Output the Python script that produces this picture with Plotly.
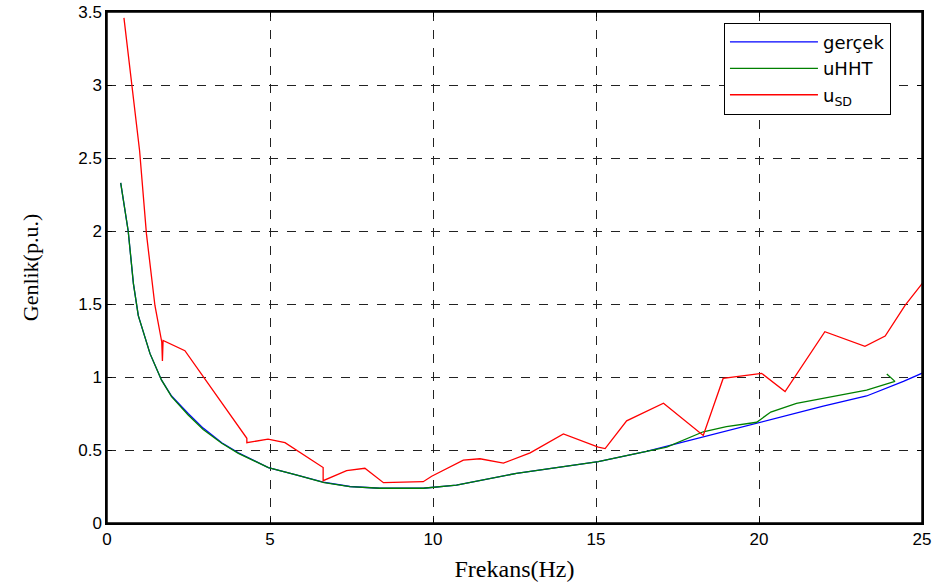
import plotly.graph_objects as go

# gerçek (blue)
f_true = [0.42, 0.65, 0.81, 0.96, 1.32, 1.67, 1.98, 2.49, 2.95, 3.52, 4.03, 4.95, 5.8, 6.63, 7.45, 8.37,
          9.70, 10.72, 12.56, 15.07, 16.55, 18.29, 20.08, 21.97, 23.30, 24.43, 25.04]
v_true = [2.33, 2.00, 1.64, 1.42, 1.16, 0.98, 0.87, 0.75, 0.65, 0.55, 0.48, 0.38, 0.33, 0.28, 0.25, 0.238,
          0.238, 0.26, 0.34, 0.42, 0.49, 0.59, 0.69, 0.80, 0.87, 0.97, 1.03]

# uHHT (green)
f_hht = [0.42, 0.65, 0.81, 0.96, 1.32, 1.67, 1.98, 2.49, 2.95, 3.52, 4.03, 4.95, 5.8, 6.66, 7.45, 8.37,
         9.70, 10.72, 12.56, 15.07, 16.04, 17.17, 18.29, 19.00, 19.93, 20.36, 21.15, 22.28, 23.30,
         24.17, 23.92]
v_hht = [2.33, 2.00, 1.64, 1.42, 1.16, 0.98, 0.865, 0.74, 0.64, 0.546, 0.477, 0.38, 0.33, 0.276, 0.249, 0.238,
         0.238, 0.26, 0.34, 0.42, 0.466, 0.52, 0.625, 0.66, 0.69, 0.76, 0.82, 0.87, 0.91,
         0.97, 1.02]

# uSD (red)
f_sd = [0.52, 0.60, 0.76, 1.00, 1.21, 1.47, 1.68, 1.70, 1.72, 2.39, 4.29, 4.29, 4.94, 5.46, 6.63, 6.63,
        7.35, 7.91, 8.48, 9.70, 9.96, 10.93, 11.44, 12.16, 12.98, 14.00, 15.07, 15.28, 15.94, 17.07,
        18.29, 18.90, 20.08, 20.80, 22.02, 23.25, 23.87, 24.48, 25.04]
v_sd = [3.46, 3.31, 3.01, 2.55, 1.98, 1.49, 1.24, 1.11, 1.25, 1.18, 0.58, 0.55, 0.575, 0.55, 0.38, 0.29,
        0.358, 0.375, 0.276, 0.283, 0.32, 0.43, 0.44, 0.41, 0.48, 0.61, 0.52, 0.51, 0.70, 0.82,
        0.60, 0.99, 1.025, 0.90, 1.31, 1.21, 1.28, 1.49, 1.65]

x_ticks = [0, 5, 10, 15, 20, 25]
y_ticks = [0, 0.5, 1, 1.5, 2, 2.5, 3, 3.5]
y_tick_text = ["0", "0.5", "1", "1.5", "2", "2.5", "3", "3.5"]

fig = go.Figure()
fig.add_trace(go.Scatter(x=f_true, y=v_true, mode="lines", name="gerçek",
                         line=dict(color="#0000ff", width=1.3)))
fig.add_trace(go.Scatter(x=f_hht, y=v_hht, mode="lines", name="uHHT",
                         line=dict(color="#008000", width=1.3)))
fig.add_trace(go.Scatter(x=f_sd, y=v_sd, mode="lines", name="u<sub>SD</sub>",
                         line=dict(color="#ff0000", width=1.3)))

axis_common = dict(
    showline=True, linecolor="black", linewidth=1.5, mirror="ticks",
    ticks="inside", ticklen=5, tickcolor="black", tickwidth=1,
    showgrid=True, gridcolor="#222222", gridwidth=1, griddash="dash",
    zeroline=False, automargin=False,
    tickfont=dict(family="Liberation Sans, Arial", size=17, color="black"),
)

fig.update_xaxes(range=[0, 25], tickvals=x_ticks, ticktext=[str(t) for t in x_ticks],
                 title=dict(text="Frekans(Hz)", font=dict(family="Liberation Serif, Times New Roman", size=24, color="black"),
                            standoff=12),
                 **axis_common)
fig.update_yaxes(range=[0, 3.5], tickvals=y_ticks, ticktext=y_tick_text,
                 title=dict(text="Genlik(p.u.)", font=dict(family="Liberation Serif, Times New Roman", size=22, color="black"),
                            standoff=34),
                 **axis_common)

# plot frame (paper-coordinate rectangle around plotting area)
fig.add_shape(type="rect", xref="paper", yref="paper", x0=0, y0=0, x1=1, y1=1,
              line=dict(color="black", width=1.5), fillcolor="rgba(0,0,0,0)", layer="above")

fig.update_layout(
    template="none",
    width=938, height=587,
    margin=dict(l=107, r=16, t=12, b=64),
    plot_bgcolor="white", paper_bgcolor="white",
    legend=dict(x=0.757, y=0.979, xanchor="left", yanchor="top",
                bgcolor="white", bordercolor="black", borderwidth=1,
                font=dict(family="DejaVu Sans", size=18, color="black"),
                itemwidth=88, tracegroupgap=0),
    showlegend=True,
)

fig.write_html("out.html", config={"displayModeBar": False},
               post_script="document.body.style.margin='0';document.body.style.overflow='hidden';")
